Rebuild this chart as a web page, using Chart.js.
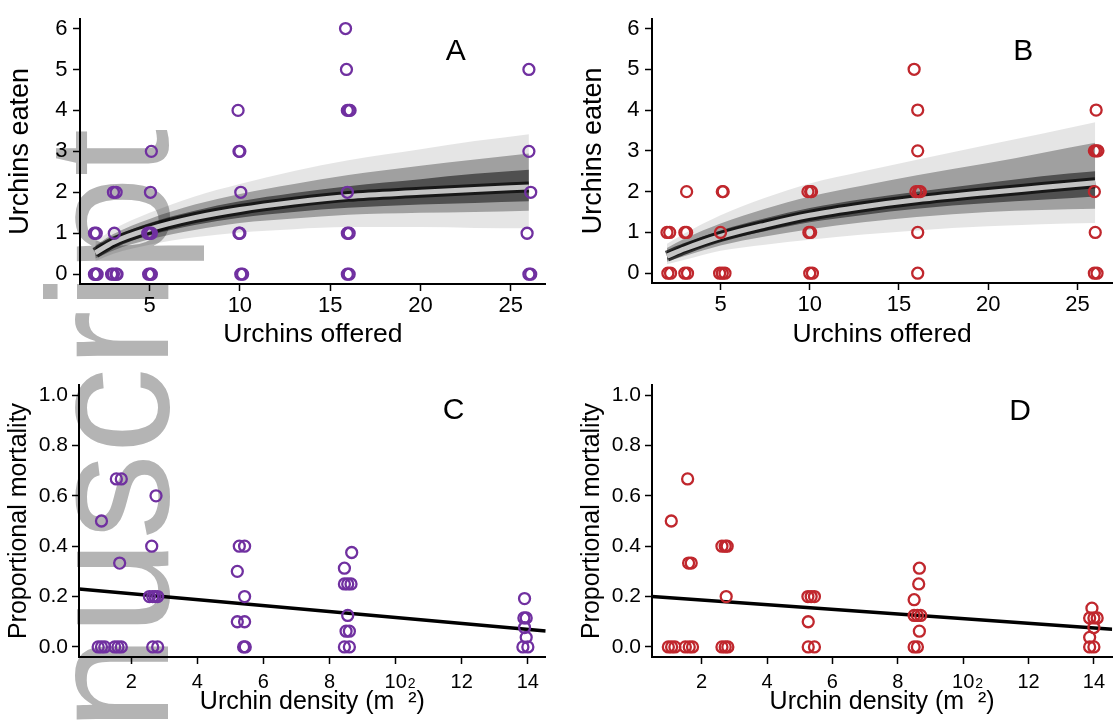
<!DOCTYPE html>
<html>
<head>
<meta charset="utf-8">
<title>Urchin predation</title>
<script src="https://cdn.jsdelivr.net/npm/chart.js@4.4.1/dist/chart.umd.min.js"></script>
<style>
  body { margin: 0; background: #fff; }
  #figure { position: relative; width: 1120px; height: 726px; overflow: hidden; background: #fff; }
  .mark {
    position: absolute; left: 22px; top: 970px;
    transform-origin: 0 0; transform: rotate(-90deg);
    font: 172px/1 "Liberation Sans", Arial, sans-serif; color: #b4b4b4; white-space: nowrap;
  }
  .panel { position: absolute; }
</style>
</head>
<body>
<div id="figure">
  <div class="mark">Manuscript</div>
  <div class="panel" style="left:0;top:0;width:560px;height:360px"><canvas id="panelA"></canvas></div>
  <div class="panel" style="left:560px;top:0;width:560px;height:360px"><canvas id="panelB"></canvas></div>
  <div class="panel" style="left:0;top:360px;width:560px;height:366px"><canvas id="panelC"></canvas></div>
  <div class="panel" style="left:560px;top:360px;width:560px;height:366px"><canvas id="panelD"></canvas></div>
</div>
<script>
// tick labels
const offeredTicks = [5, 10, 15, 20, 25];
const eatenTicks = [0, 1, 2, 3, 4, 5, 6];
const densityTicks = [2, 4, 6, 8, 10, 12, 14];
const mortalityTicks = [0, 0.2, 0.4, 0.6, 0.8, 1.0];

// A: urchins offered vs eaten (purple)
const aOffered = [
  1.95, 2.0, 2.05, 2.1, 2.9, 3.0, 3.15, 3.2, 4.95, 5.05, 5.1, 10.05, 10.15, 15.95, 16.05, 26.0, 26.1,
  1.95, 2.05, 3.05, 4.9, 5.0, 5.1, 9.95, 10.0, 15.95, 16.05, 25.9,
  3.0, 3.15, 5.05, 10.05, 15.95, 26.1,
  5.1, 9.95, 10.0, 26.0,
  9.9, 15.95, 16.05, 16.1,
  15.9, 26.0,
  15.85
];
const aEaten = [
  0, 0, 0, 0, 0, 0, 0, 0, 0, 0, 0, 0, 0, 0, 0, 0, 0,
  1, 1, 1, 1, 1, 1, 1, 1, 1, 1, 1,
  2, 2, 2, 2, 2, 2,
  3, 3, 3, 3,
  4, 4, 4, 4,
  5, 5,
  6
];

// B: urchins offered vs eaten (red)
const bOffered = [
  2.05, 2.2, 3.0, 3.15, 4.95, 5.1, 5.25, 10.0, 10.15, 16.05, 25.95, 26.1,
  2.0, 2.15, 3.0, 3.1, 5.0, 9.95, 10.05, 16.05, 26.0,
  3.1, 5.1, 5.15, 9.9, 10.05, 10.1, 15.95, 16.1, 16.2, 25.95,
  16.05, 25.95, 26.05, 26.15,
  16.05, 26.05,
  15.85
];
const bEaten = [
  0, 0, 0, 0, 0, 0, 0, 0, 0, 0, 0, 0,
  1, 1, 1, 1, 1, 1, 1, 1, 1,
  2, 2, 2, 2, 2, 2, 2, 2, 2, 2,
  3, 3, 3, 3,
  4, 4,
  5
];

// fitted functional response at these offered values
const fitOffered = [2, 3, 5, 7.5, 10, 13, 16, 20, 23, 26];
const aMean    = [0.52, 0.78, 1.10, 1.38, 1.58, 1.76, 1.90, 2.00, 2.07, 2.13];
const aOuterHi = [0.80, 1.10, 1.50, 1.90, 2.20, 2.52, 2.78, 3.05, 3.25, 3.42];
const aOuterLo = [0.32, 0.50, 0.72, 0.90, 1.02, 1.10, 1.15, 1.15, 1.13, 1.12];
const aMidHi   = [0.70, 0.98, 1.35, 1.70, 1.96, 2.20, 2.42, 2.65, 2.80, 2.95];
const aMidLo   = [0.38, 0.58, 0.85, 1.08, 1.25, 1.36, 1.45, 1.50, 1.52, 1.55];
const aInnerHi = [0.63, 0.90, 1.25, 1.55, 1.78, 1.98, 2.15, 2.32, 2.45, 2.55];
const aInnerLo = [0.43, 0.66, 0.95, 1.20, 1.38, 1.52, 1.62, 1.70, 1.74, 1.78];

const bMean    = [0.42, 0.60, 0.90, 1.18, 1.42, 1.63, 1.80, 1.98, 2.10, 2.22];
const bOuterHi = [0.72, 0.98, 1.42, 1.85, 2.20, 2.50, 2.78, 3.15, 3.42, 3.70];
const bOuterLo = [0.22, 0.33, 0.55, 0.70, 0.82, 0.95, 1.05, 1.15, 1.20, 1.23];
const bMidHi   = [0.62, 0.85, 1.22, 1.58, 1.88, 2.15, 2.40, 2.70, 2.95, 3.20];
const bMidLo   = [0.28, 0.42, 0.68, 0.90, 1.08, 1.25, 1.38, 1.50, 1.55, 1.58];
const bInnerHi = [0.52, 0.73, 1.05, 1.35, 1.60, 1.82, 2.00, 2.22, 2.38, 2.50];
const bInnerLo = [0.33, 0.50, 0.78, 1.03, 1.25, 1.43, 1.58, 1.72, 1.80, 1.88];

// C: urchin density vs proportional mortality (purple)
const cDensity = [
  1.1, 1.55, 1.7, 1.65, 2.75, 2.62, 2.55, 2.65, 2.72, 2.8, 1.0, 1.1, 1.2, 1.5, 1.6, 1.7, 2.65, 2.8,
  5.27, 5.43, 5.21, 5.43, 5.21, 5.43, 5.4, 5.45,
  8.67, 8.45, 8.45, 8.55, 8.65, 8.55, 8.5, 8.6, 8.45, 8.6,
  13.9, 13.88, 13.95, 13.9, 13.95, 13.85, 14.0
];
const cMortality = [
  0.5, 0.667, 0.667, 0.333, 0.6, 0.4, 0.2, 0.2, 0.2, 0.2, 0, 0, 0, 0, 0, 0, 0, 0,
  0.4, 0.4, 0.3, 0.2, 0.1, 0.1, 0, 0,
  0.375, 0.3125, 0.25, 0.25, 0.25, 0.125, 0.0625, 0.0625, 0, 0,
  0.192, 0.115, 0.115, 0.077, 0.038, 0, 0
];
const cFitDensity = [0.42, 14.54];
const cFitMortality = [0.23, 0.063];

// D: urchin density vs proportional mortality (red)
const dDensity = [
  1.07, 1.57, 1.6, 1.68, 2.62, 2.72, 2.78, 2.75, 0.98, 1.08, 1.18, 1.5, 1.62, 1.72, 2.62, 2.72, 2.8,
  5.25, 5.35, 5.45, 5.26, 5.26, 5.45,
  8.66, 8.64, 8.5, 8.5, 8.6, 8.7, 8.66, 8.5, 8.6,
  13.94, 13.87, 14.0, 14.1, 14.0, 13.87, 13.87, 14.0
];
const dMortality = [
  0.5, 0.667, 0.333, 0.333, 0.4, 0.4, 0.4, 0.2, 0, 0, 0, 0, 0, 0, 0, 0, 0,
  0.2, 0.2, 0.2, 0.1, 0, 0,
  0.3125, 0.25, 0.1875, 0.125, 0.125, 0.125, 0.0625, 0, 0,
  0.154, 0.115, 0.115, 0.115, 0.077, 0.038, 0, 0
];
const dFitDensity = [0.48, 14.56];
const dFitMortality = [0.2, 0.07];

const INK = "#000";
const PURPLE = "#7030a0";
const RED = "#c0272d";
const FONT = '"Liberation Sans", Arial, sans-serif';

Chart.defaults.font.family = FONT;
Chart.defaults.color = INK;

const pts = (xs, ys) => xs.map((x, i) => ({ x, y: ys[i] }));

// panel letter (A-D) and the stray superscript next to the "10" tick
const panelLabel = {
    id: "panelLabel",
    afterDraw(chart, args, opts) {
        if (!opts.text) return;
        const { ctx, chartArea } = chart;
        ctx.save();
        ctx.fillStyle = INK;
        ctx.textAlign = "center";
        ctx.textBaseline = "middle";
        ctx.font = `30px ${FONT}`;
        ctx.fillText(opts.text, chartArea.right - opts.dx, chartArea.top + opts.dy);
        if (opts.stray) {
            ctx.font = `14px ${FONT}`;
            const x = chart.scales.x.getPixelForValue(opts.stray.value);
            ctx.fillText("2", x + opts.stray.dx, chartArea.bottom + opts.stray.dy);
        }
        ctx.restore();
    }
};
Chart.register(panelLabel);

function axis(o) {
    return {
        type: "linear",
        min: o.min,
        max: o.max,
        afterBuildTicks: s => { s.ticks = o.ticks.map(v => ({ value: v })); },
        afterFit: s => { if (s.isHorizontal()) s.height = o.size; else s.width = o.size; },
        grid: { display: true, drawOnChartArea: false, drawTicks: true, tickLength: 7, tickWidth: 1.5, tickColor: INK },
        border: { display: true, color: INK, width: 2 },
        ticks: {
            color: INK, font: { size: o.tickSize }, padding: o.tickPad,
            maxRotation: 0, autoSkip: false,
            callback: o.fmt || (v => v)
        },
        title: { display: true, text: o.title, color: INK, font: { size: o.titleSize }, padding: o.titlePad }
    };
}

function bandPair(hi, lo, alpha, order) {
    const base = { showLine: true, pointRadius: 0, borderColor: "rgba(0,0,0,0)", borderWidth: 1, cubicInterpolationMode: "monotone", order };
    return [
        { ...base, data: pts(fitOffered, hi), fill: "+1", backgroundColor: `rgba(0,0,0,${alpha})` },
        { ...base, data: pts(fitOffered, lo), fill: false }
    ];
}

function panel(id, o) {
    const datasets = [{
        data: pts(o.x, o.y), showLine: false,
        pointRadius: 5.5, pointBorderWidth: 2.3,
        pointBorderColor: o.color, pointBackgroundColor: "rgba(0,0,0,0)", order: 1
    }];
    if (o.band) {
        const b = o.band;
        datasets.push(
            { data: pts(fitOffered, b.mean), showLine: true, pointRadius: 0, borderColor: "#c4c4c4", borderWidth: 5, cubicInterpolationMode: "monotone", order: 2 },
            { data: pts(fitOffered, b.mean), showLine: true, pointRadius: 0, borderColor: "rgba(0,0,0,0.7)", borderWidth: 11, cubicInterpolationMode: "monotone", order: 3 },
            ...bandPair(b.innerHi, b.innerLo, 0.5, 4),
            ...bandPair(b.midHi, b.midLo, 0.3, 5),
            ...bandPair(b.outerHi, b.outerLo, 0.1, 6)
        );
    }
    if (o.fit) {
        datasets.push({ data: pts(o.fit[0], o.fit[1]), showLine: true, pointRadius: 0, borderColor: INK, borderWidth: 3.5, order: 2 });
    }
    new Chart(document.getElementById(id), {
        type: "scatter",
        data: { datasets },
        options: {
            responsive: true,
            maintainAspectRatio: false,
            animation: false,
            events: [],
            layout: { padding: o.pad },
            plugins: { legend: { display: false }, tooltip: { enabled: false }, panelLabel: o.label },
            scales: { x: o.xAxis, y: o.yAxis }
        }
    });
}

panel("panelA", {
    x: aOffered, y: aEaten, color: PURPLE,
    band: { mean: aMean, outerHi: aOuterHi, outerLo: aOuterLo, midHi: aMidHi, midLo: aMidLo, innerHi: aInnerHi, innerLo: aInnerLo },
    pad: { left: 0, right: 14.3, top: 10, bottom: 0 },
    label: { text: "A", dx: 90, dy: 33 },
    xAxis: axis({ min: 1.15, max: 26.93, ticks: offeredTicks, size: 76, tickSize: 22, tickPad: 2, title: "Urchins offered", titleSize: 26.5, titlePad: { top: 0, bottom: 9.4 } }),
    yAxis: axis({ min: -0.24, max: 6.24, ticks: eatenTicks, size: 80, tickSize: 22, tickPad: 5.5, title: "Urchins eaten", titleSize: 27, titlePad: { top: 4.75, bottom: 0 } })
});

panel("panelB", {
    x: bOffered, y: bEaten, color: RED,
    band: { mean: bMean, outerHi: bOuterHi, outerLo: bOuterLo, midHi: bMidHi, midLo: bMidLo, innerHi: bInnerHi, innerLo: bInnerLo },
    pad: { left: 12, right: 2, top: 10, bottom: 0 },
    label: { text: "B", dx: 89, dy: 33 },
    xAxis: axis({ min: 1.16, max: 26.95, ticks: offeredTicks, size: 77, tickSize: 22, tickPad: 2, title: "Urchins offered", titleSize: 26.5, titlePad: { top: 0, bottom: 9.4 } }),
    yAxis: axis({ min: -0.24, max: 6.24, ticks: eatenTicks, size: 80, tickSize: 22, tickPad: 5.5, title: "Urchins eaten", titleSize: 27, titlePad: { top: 5.35, bottom: 0 } })
});

panel("panelC", {
    x: cDensity, y: cMortality, color: PURPLE,
    fit: [cFitDensity, cFitMortality],
    pad: { left: 0, right: 14.3, top: 25, bottom: 0 },
    label: { text: "C", dx: 92, dy: 26, stray: { value: 10, dx: 16, dy: 27 } },
    xAxis: axis({ min: 0.42, max: 14.54, ticks: densityTicks, size: 69, tickSize: 20, tickPad: 6, title: "Urchin density (m  ²)", titleSize: 25, titlePad: { top: 0, bottom: 8.75 } }),
    yAxis: axis({ min: -0.04, max: 1.04, ticks: mortalityTicks, size: 79, tickSize: 21, tickPad: 4, fmt: v => v.toFixed(1), title: "Proportional mortality", titleSize: 25, titlePad: { top: 4.3, bottom: 0 } })
});

panel("panelD", {
    x: dDensity, y: dMortality, color: RED,
    fit: [dFitDensity, dFitMortality],
    pad: { left: 12, right: 2, top: 25, bottom: 0 },
    label: { text: "D", dx: 92, dy: 26.5, stray: { value: 10, dx: 16, dy: 27 } },
    xAxis: axis({ min: 0.48, max: 14.56, ticks: densityTicks, size: 69, tickSize: 20, tickPad: 6, title: "Urchin density (m  ²)", titleSize: 25, titlePad: { top: 0, bottom: 8.75 } }),
    yAxis: axis({ min: -0.04, max: 1.04, ticks: mortalityTicks, size: 80, tickSize: 21, tickPad: 4, fmt: v => v.toFixed(1), title: "Proportional mortality", titleSize: 25, titlePad: { top: 5.3, bottom: 0 } })
});
</script>
</body>
</html>
